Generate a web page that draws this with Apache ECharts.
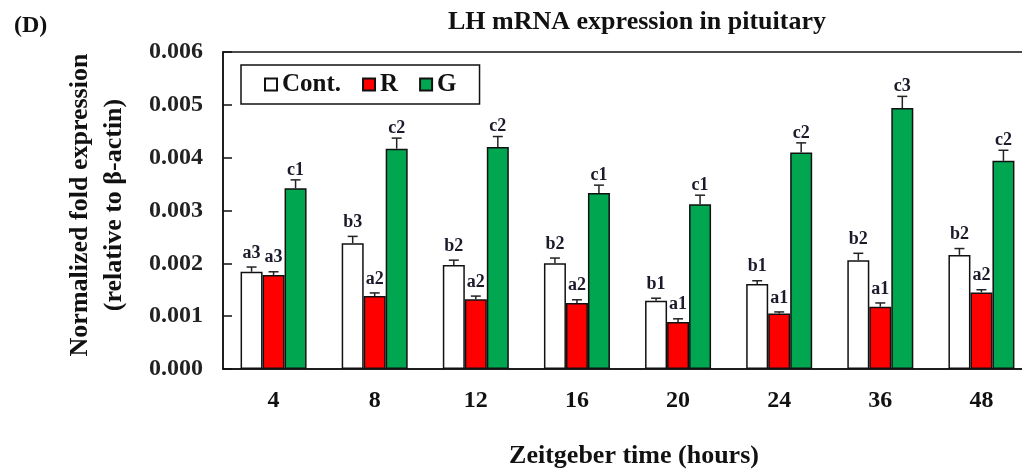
<!DOCTYPE html>
<html>
<head>
<meta charset="utf-8">
<script src="https://cdn.jsdelivr.net/npm/echarts@6/dist/echarts.min.js"></script>
<style>
  html, body { margin: 0; padding: 0; background: #fff; }
  #chart { width: 1022px; height: 470px; }
</style>
</head>
<body>
<div id="chart"></div>
<script>
// Zeitgeber time (hours)
var categories = ['4', '8', '12', '16', '20', '24', '36', '48'];

// mean values
var contMean = [0.00184, 0.00238, 0.00197, 0.00200, 0.00129, 0.00161, 0.00206, 0.00216];
var rMean    = [0.00178, 0.00138, 0.00132, 0.00125, 0.00089, 0.00105, 0.00118, 0.00145];
var gMean    = [0.00342, 0.00417, 0.00420, 0.00333, 0.00312, 0.00410, 0.00494, 0.00394];

// upper error (SE)
var contErr = [0.00009, 0.00013, 0.00009, 0.00010, 0.00005, 0.00006, 0.00013, 0.00012];
var rErr    = [0.00006, 0.00006, 0.00006, 0.00006, 0.00006, 0.00003, 0.00007, 0.00005];
var gErr    = [0.00016, 0.00020, 0.00020, 0.00015, 0.00017, 0.00018, 0.00022, 0.00020];

// significance letters
var contSig = ['a3', 'b3', 'b2', 'b2', 'b1', 'b1', 'b2', 'b2'];
var rSig    = ['a3', 'a2', 'a2', 'a2', 'a1', 'a1', 'a1', 'a2'];
var gSig    = ['c1', 'c2', 'c2', 'c1', 'c1', 'c2', 'c3', 'c2'];

var FONT = '"Liberation Serif", "Times New Roman", serif';
var BAR_W = 22;

var chart = echarts.init(document.getElementById('chart'));

// error bar + letter drawn on top of bar number `slot` (0,1,2)
function errRenderer(slot, sig, labelGap) {
    return function (params, api) {
        var cat = api.value(0);
        var mean = api.value(1);
        var err = api.value(2);
        var base = api.coord([cat, mean]);
        var top = api.coord([cat, mean + err]);
        var x = base[0] + (slot - 1) * BAR_W;
        var lineStyle = { stroke: '#222', lineWidth: 1.5 };
        return {
            type: 'group',
            children: [
                { type: 'line', shape: { x1: x, y1: base[1], x2: x, y2: top[1] }, style: lineStyle },
                { type: 'line', shape: { x1: x - 5, y1: top[1], x2: x + 5, y2: top[1] }, style: lineStyle },
                {
                    type: 'text',
                    style: {
                        text: sig[params.dataIndex],
                        x: x,
                        y: top[1] - labelGap,
                        textAlign: 'center',
                        textVerticalAlign: 'bottom',
                        font: 'bold 18px ' + FONT,
                        fill: '#1a1a2a'
                    }
                }
            ]
        };
    };
}

function errData(mean, err) {
    return categories.map(function (c, i) { return [i, mean[i], err[i]]; });
}

function barSeries(name, data, color) {
    return {
        name: name,
        type: 'bar',
        data: data,
        barWidth: BAR_W,
        barGap: '0%',
        itemStyle: { color: color, borderColor: '#111', borderWidth: 1.5 }
    };
}

function errSeries(slot, mean, err, sig, gap) {
    return {
        type: 'custom',
        data: errData(mean, err),
        renderItem: errRenderer(slot, sig, gap),
        z: 5,
        silent: true
    };
}

var option = {
    animation: false,
    backgroundColor: '#fff',
    grid: {
        left: 223,
        top: 52,
        width: 809,
        bottom: 101,
        outerBoundsMode: 'none',
        containLabel: false,
        show: true,
        borderColor: '#111',
        borderWidth: 1.5
    },
    legend: {
        left: 241,
        top: 65,
        padding: [7, 23, 7, 23],
        borderColor: '#111',
        borderWidth: 1.5,
        itemWidth: 12,
        itemHeight: 12,
        itemGap: 21,
        icon: 'rect',
        textStyle: { fontFamily: FONT, fontWeight: 'bold', fontSize: 25, color: '#111' },
        data: ['Cont.', 'R', 'G']
    },
    xAxis: {
        type: 'category',
        data: categories,
        axisLine: { lineStyle: { color: '#111', width: 1.5 } },
        axisTick: { inside: true, length: 6, lineStyle: { color: '#111', width: 1.5 } },
        axisLabel: { margin: 20, fontFamily: FONT, fontWeight: 'bold', fontSize: 24, color: '#111' }
    },
    yAxis: {
        type: 'value',
        min: 0,
        max: 0.006,
        interval: 0.001,
        splitLine: { show: false },
        axisLine: { show: true, lineStyle: { color: '#111', width: 1.5 } },
        axisTick: { show: true, inside: true, length: 9, lineStyle: { color: '#111', width: 1.5 } },
        axisLabel: {
            margin: 20,
            fontFamily: FONT, fontWeight: 'bold', fontSize: 24, color: '#222',
            formatter: function (v) { return v.toFixed(3); }
        }
    },
    graphic: [
        { type: 'text', left: 14, top: 14,
          style: { text: '(D)', font: 'bold 24px ' + FONT, fill: '#111' } },
        { type: 'text', x: 637, y: 22,
          style: { text: 'LH mRNA expression in pituitary', font: 'bold 26px ' + FONT, fill: '#111',
                   textAlign: 'center', textVerticalAlign: 'middle' } },
        { type: 'text', x: 80, y: 205, rotation: Math.PI / 2,
          style: { text: 'Normalized fold expression', font: 'bold 26px ' + FONT, fill: '#111',
                   textAlign: 'center', textVerticalAlign: 'middle' } },
        { type: 'text', x: 114, y: 205, rotation: Math.PI / 2,
          style: { text: '(relative to \u03b2-actin)', font: 'bold 26px ' + FONT, fill: '#111',
                   textAlign: 'center', textVerticalAlign: 'middle' } },
        { type: 'text', x: 634, y: 456,
          style: { text: 'Zeitgeber time (hours)', font: 'bold 26px ' + FONT, fill: '#111',
                   textAlign: 'center', textVerticalAlign: 'middle' } }
    ],
    series: [
        barSeries('Cont.', contMean, '#ffffff'),
        barSeries('R', rMean, '#ff0000'),
        barSeries('G', gMean, '#00a650'),
        errSeries(0, contMean, contErr, contSig, 5),
        errSeries(1, rMean, rErr, rSig, 5),
        errSeries(2, gMean, gErr, gSig, 1)
    ]
};

chart.setOption(option);
</script>
</body>
</html>
